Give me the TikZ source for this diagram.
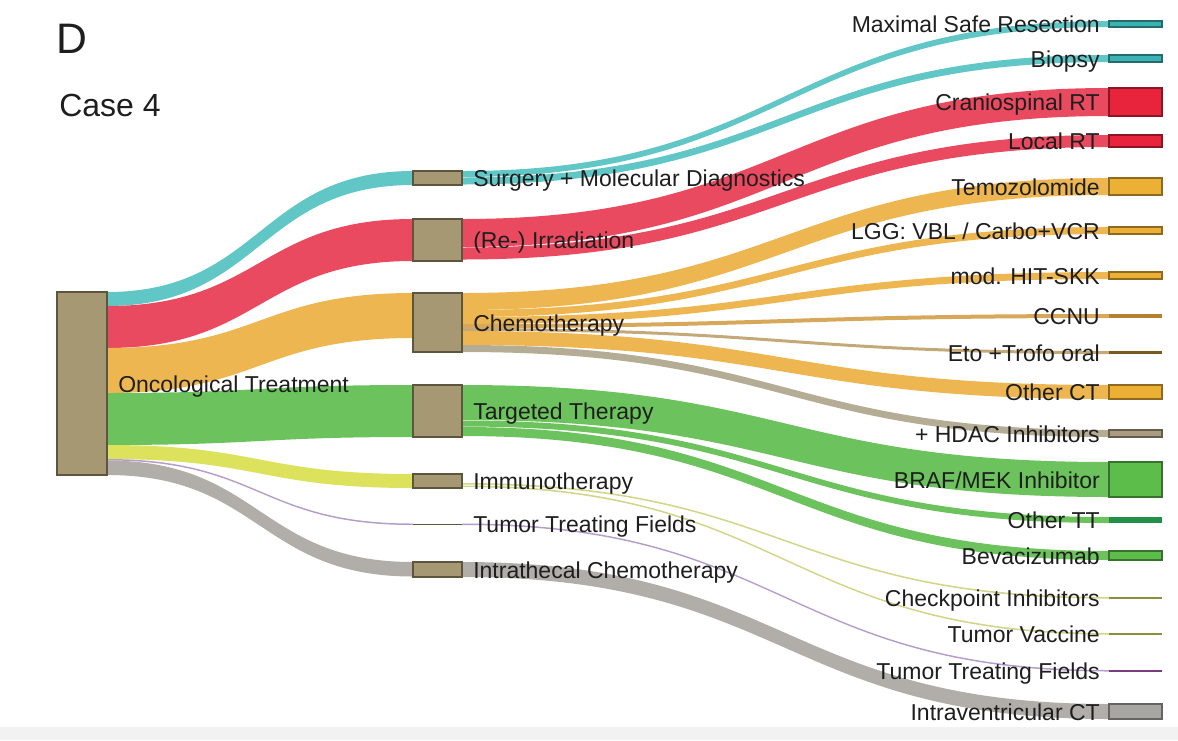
\documentclass[tikz,border=0pt]{standalone}
\usepackage{fontspec}
\setmainfont{Liberation Sans}
\usetikzlibrary{calc}
\pgfdeclarelayer{bg}
\pgfsetlayers{bg,main}
\definecolor{tanfill}{HTML}{A69873}
\definecolor{tanline}{HTML}{5E553F}
\definecolor{lteal}{HTML}{61C7C6}
\definecolor{lred}{HTML}{EA4A5F}
\definecolor{lorange}{HTML}{EDB650}
\definecolor{lgreen}{HTML}{6CC25C}
\definecolor{lyellow}{HTML}{DCE25C}
\definecolor{lpurple}{HTML}{B59DCB}
\definecolor{lgray}{HTML}{B1AEAA}
\definecolor{lccnu}{HTML}{D8A85A}
\definecolor{leto}{HTML}{C4A878}
\definecolor{lhdac}{HTML}{B5AC95}
\definecolor{lolive}{HTML}{D2D68A}
\definecolor{bteal}{HTML}{3BB3B5}
\definecolor{bred}{HTML}{E8233C}
\definecolor{borange}{HTML}{EBB034}
\definecolor{bccnu}{HTML}{B5812F}
\definecolor{beto}{HTML}{7A5A20}
\definecolor{bhdac}{HTML}{A99C80}
\definecolor{bgreen}{HTML}{5CBD4A}
\definecolor{bdgreen}{HTML}{21914A}
\definecolor{bolive}{HTML}{8C8E3C}
\definecolor{bpurple}{HTML}{7C3D80}
\definecolor{bgray}{HTML}{A8A6A2}
\definecolor{txt}{HTML}{1E1E1E}
% band: #1 source node, #2 offset at source, #3 target node, #4 offset at target, #5 width, #6 colour
\newcommand\band[6]{%
  \path let \p1=($(#1.north east)+(0,#2)$), \p2=($(#3.north west)+(0,#4)$),
            \p3=($(#1.north east)+(0,#2+#5)$), \p4=($(#3.north west)+(0,#4+#5)$) in
    [fill=#6] (\p1) .. controls ({(\x1+\x2)/2},\y1) and ({(\x1+\x2)/2},\y2) .. (\p2)
    -- (\p4) .. controls ({(\x1+\x2)/2},\y4) and ({(\x1+\x2)/2},\y3) .. (\p3) -- cycle;}
\begin{document}
\begin{tikzpicture}[x=0.75pt,y=-0.75pt,
  dims/.style 2 args={minimum width=#1*0.75pt, minimum height=#2*0.75pt},
  tan/.style={draw=tanline, fill=tanfill, line width=0.8pt, inner sep=0pt, outer sep=0pt, anchor=north west},
  endbox/.style={draw=#1!60!black, fill=#1, line width=0.8pt, inner sep=0pt, outer sep=0pt, anchor=north west, dims={53}{0}},
  thin/.style={draw=none, fill=#1, inner sep=0pt, outer sep=0pt, anchor=north west},
  lbl/.style={text=txt, inner sep=0pt, font=\fontsize{17.25}{20}\selectfont}]
\useasboundingbox (0,0) rectangle (1178,740);
\begin{pgfonlayer}{bg}
\fill[black!5] (0,727) rectangle (1178,740);
\end{pgfonlayer}

% titles
\node[text=txt, inner sep=0pt, anchor=base west, font=\fontsize{32}{36}\selectfont] (title) at (56,53) {D};
\node[text=txt, inner sep=0pt, anchor=base west, font=\fontsize{24}{28}\selectfont] (case) at (59,116) {Case 4};

% left node
\node[tan, dims={50}{183}] (L) at (57,292) {};
% middle nodes
\node[tan, dims={49}{14}] (S) at (413,171) {};
\node[tan, dims={49}{42}] (I) at (413,219) {};
\node[tan, dims={49}{59}] (C) at (413,293) {};
\node[tan, dims={49}{52}] (T) at (413,385) {};
\node[tan, dims={49}{14}] (M) at (413,474) {};
\node[thin=tanline, dims={49}{1.5}] (F) at (413,523.5) {};
\node[tan, dims={49}{15}] (N) at (413,562) {};
% right nodes
\node[endbox=bteal, dims={53}{6}] (R1) at (1109,21) {};
\node[endbox=bteal, dims={53}{7}] (R2) at (1109,55) {};
\node[endbox=bred, dims={53}{28}] (R3) at (1109,88) {};
\node[endbox=bred, dims={53}{12}] (R4) at (1109,135) {};
\node[endbox=borange, dims={53}{17}] (R5) at (1109,178) {};
\node[endbox=borange, dims={53}{7}] (R6) at (1109,227) {};
\node[endbox=borange, dims={53}{7}] (R7) at (1109,272) {};
\node[thin=bccnu, dims={53}{4}] (R8) at (1109,314) {};
\node[thin=beto, dims={53}{3}] (R9) at (1109,351) {};
\node[endbox=borange, dims={53}{14}] (R10) at (1109,385) {};
\node[endbox=bhdac, dims={53}{7}] (R11) at (1109,430) {};
\node[endbox=bgreen, dims={53}{35}] (R12) at (1109,462) {};
\node[thin=bdgreen, dims={53}{6}] (R13) at (1109,517) {};
\node[endbox=bgreen, dims={53}{9}] (R14) at (1109,551) {};
\node[thin=bolive, dims={53}{2}] (R15) at (1109,597) {};
\node[thin=bolive, dims={53}{2}] (R16) at (1109,633) {};
\node[thin=bpurple, dims={53}{2}] (R17) at (1109,670) {};
\node[endbox=bgray, dims={53}{15}] (R18) at (1109,704) {};

\begin{pgfonlayer}{bg}
% left -> middle
\band{L}{0}{S}{0}{14}{lteal}
\band{L}{14}{I}{0}{42}{lred}
\band{L}{56}{C}{0}{45}{lorange}
\band{L}{101}{T}{0}{52}{lgreen}
\band{L}{153}{M}{0}{14}{lyellow}
\band{L}{167}{F}{0}{1.5}{lpurple}
\band{L}{168.5}{N}{0}{14.5}{lgray}
% middle -> right
\band{S}{0}{R1}{0}{6}{lteal}
\band{S}{6.5}{R2}{0}{7}{lteal}
\band{I}{0}{R3}{0}{28}{lred}
\band{I}{28.5}{R4}{0}{12}{lred}
\band{C}{0}{R5}{0}{17}{lorange}
\band{C}{17}{R6}{0}{7}{lorange}
\band{C}{24}{R7}{0}{7}{lorange}
\band{C}{31}{R8}{0}{4}{lccnu}
\band{C}{35}{R9}{0}{3}{leto}
\band{C}{38}{R10}{0}{14}{lorange}
\band{C}{52}{R11}{0}{7}{lhdac}
\band{T}{0}{R12}{0}{35}{lgreen}
\band{T}{35.5}{R13}{0}{6}{lgreen}
\band{T}{42}{R14}{0}{9}{lgreen}
\band{M}{9}{R15}{0}{1.6}{lolive}
\band{M}{11.5}{R16}{0}{1.6}{lolive}
\band{F}{0}{R17}{0}{1.5}{lpurple}
\band{N}{0}{R18}{0}{15}{lgray}
\end{pgfonlayer}

% labels
\node[lbl, anchor=base west] (tL) at ($(L.east)+(11,8.5)$) {Oncological Treatment};
\node[lbl, anchor=base west] (tS) at ($(S.east)+(11,8.5)$) {Surgery + Molecular Diagnostics};
\node[lbl, anchor=base west] (tI) at ($(I.east)+(11,8.5)$) {(Re-) Irradiation};
\node[lbl, anchor=base west] (tC) at ($(C.east)+(11,8.5)$) {Chemotherapy};
\node[lbl, anchor=base west] (tT) at ($(T.east)+(11,8.5)$) {Targeted Therapy};
\node[lbl, anchor=base west] (tM) at ($(M.east)+(11,8.5)$) {Immunotherapy};
\node[lbl, anchor=base west] (tF) at ($(F.east)+(11,8.5)$) {Tumor Treating Fields};
\node[lbl, anchor=base west] (tN) at ($(N.east)+(11,8.5)$) {Intrathecal Chemotherapy};

\node[lbl, anchor=base east] (t1) at ($(R1.west)+(-9,8.5)$) {Maximal Safe Resection};
\node[lbl, anchor=base east] (t2) at ($(R2.west)+(-9,8.5)$) {Biopsy};
\node[lbl, anchor=base east] (t3) at ($(R3.west)+(-9,8.5)$) {Craniospinal RT};
\node[lbl, anchor=base east] (t4) at ($(R4.west)+(-9,8.5)$) {Local RT};
\node[lbl, anchor=base east] (t5) at ($(R5.west)+(-9,8.5)$) {Temozolomide};
\node[lbl, anchor=base east] (t6) at ($(R6.west)+(-9,8.5)$) {LGG: VBL / Carbo+VCR};
\node[lbl, anchor=base east] (t7) at ($(R7.west)+(-9,8.5)$) {mod. HIT-SKK};
\node[lbl, anchor=base east] (t8) at ($(R8.west)+(-9,8.5)$) {CCNU};
\node[lbl, anchor=base east] (t9) at ($(R9.west)+(-9,8.5)$) {Eto +Trofo oral};
\node[lbl, anchor=base east] (t10) at ($(R10.west)+(-9,8.5)$) {Other CT};
\node[lbl, anchor=base east] (t11) at ($(R11.west)+(-9,8.5)$) {+ HDAC Inhibitors};
\node[lbl, anchor=base east] (t12) at ($(R12.west)+(-9,8.5)$) {BRAF/MEK Inhibitor};
\node[lbl, anchor=base east] (t13) at ($(R13.west)+(-9,8.5)$) {Other TT};
\node[lbl, anchor=base east] (t14) at ($(R14.west)+(-9,8.5)$) {Bevacizumab};
\node[lbl, anchor=base east] (t15) at ($(R15.west)+(-9,8.5)$) {Checkpoint Inhibitors};
\node[lbl, anchor=base east] (t16) at ($(R16.west)+(-9,8.5)$) {Tumor Vaccine};
\node[lbl, anchor=base east] (t17) at ($(R17.west)+(-9,8.5)$) {Tumor Treating Fields};
\node[lbl, anchor=base east] (t18) at ($(R18.west)+(-9,8.5)$) {Intraventricular CT};
\end{tikzpicture}
\end{document}
